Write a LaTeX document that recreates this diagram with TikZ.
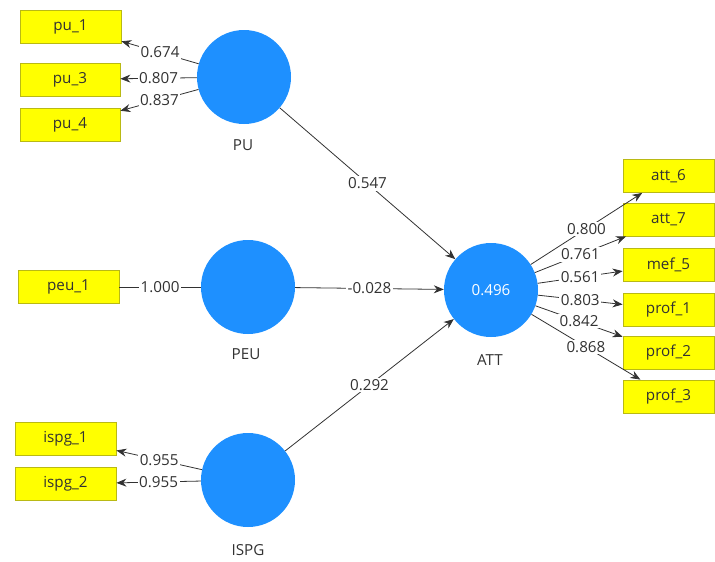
\documentclass[tikz,border=0pt]{standalone}
\usepackage{fontspec}
\setmainfont{Open Sans}
\usetikzlibrary{arrows.meta}
\definecolor{plsblue}{RGB}{30,144,255}
\definecolor{boxyellow}{RGB}{255,255,0}
\definecolor{boxborder}{RGB}{185,185,20}
\definecolor{linec}{RGB}{50,50,50}
\definecolor{txt}{RGB}{50,50,50}
\tikzset{
  ind/.style={draw=boxborder, fill=boxyellow, minimum height=33pt, inner sep=0pt, text=txt, line width=0.8pt},
  lv/.style={circle, fill=plsblue, minimum size=94pt, inner sep=0pt, text=white},
  lvname/.style={text=txt},
  lbl/.style={fill=white, inner sep=1.5pt, text=txt},
  conn/.style={draw=linec, line width=0.8pt},
  arr/.style={conn, -{Stealth[length=10pt,width=8pt]}}
}
\begin{document}
\begin{tikzpicture}[x=1pt,y=-1pt,font=\fontsize{15.2}{18}\selectfont]
\useasboundingbox (0,0) rectangle (715,562);
% latent variables
\node[lv] (PU) at (244,77) {};
\node[lv] (PEU) at (248,287) {};
\node[lv] (ATT) at (491,290) {0.496};
\node[lv] (ISPG) at (248,480) {};
\node[lvname] (PUl) at (243,145) {PU};
\node[lvname] (PEUl) at (246,354) {PEU};
\node[lvname] (ATTl) at (490,360) {ATT};
\node[lvname] (ISPGl) at (248,550) {ISPG};
% left indicators
\node[ind, minimum width=101pt] (pu1) at (70.5,26.5) {pu\_1};
\node[ind, minimum width=100pt] (pu3) at (70,79.5) {pu\_3};
\node[ind, minimum width=100pt] (pu4) at (70,124.5) {pu\_4};
\node[ind, minimum width=101pt] (peu1) at (68.5,287) {peu\_1};
\node[ind, minimum width=101pt] (ispg1) at (65.5,439) {ispg\_1};
\node[ind, minimum width=101pt] (ispg2) at (65.5,484) {ispg\_2};
% right indicators
\node[ind, minimum width=91pt] (att6) at (668.5,176) {att\_6};
\node[ind, minimum width=91pt] (att7) at (668.5,219.5) {att\_7};
\node[ind, minimum width=91pt] (mef5) at (668.5,264.5) {mef\_5};
\node[ind, minimum width=91pt] (prof1) at (668.5,309.5) {prof\_1};
\node[ind, minimum width=91pt] (prof2) at (668.5,353) {prof\_2};
\node[ind, minimum width=91pt] (prof3) at (668.5,396.5) {prof\_3};
% outer loadings
\draw[arr] (PU) -- node[lbl]{0.674} (pu1);
\draw[arr] (PU) -- node[lbl]{0.807} (pu3);
\draw[arr] (PU) -- node[lbl]{0.837} (pu4);
\draw[conn] (peu1) -- node[lbl]{1.000} (PEU);
\draw[arr] (ISPG) -- node[lbl]{0.955} (ispg1);
\draw[arr] (ISPG) -- node[lbl]{0.955} (ispg2);
\draw[arr] (ATT) -- node[lbl]{0.800} (att6);
\draw[arr] (ATT) -- node[lbl]{0.761} (att7);
\draw[arr] (ATT) -- node[lbl]{0.561} (mef5);
\draw[arr] (ATT) -- node[lbl]{0.803} (prof1);
\draw[arr] (ATT) -- node[lbl]{0.842} (prof2);
\draw[arr] (ATT) -- node[lbl]{0.868} (prof3);
% path coefficients
\draw[arr] (PU) -- node[lbl]{0.547} (ATT);
\draw[arr] (PEU) -- node[lbl]{-0.028} (ATT);
\draw[arr] (ISPG) -- node[lbl]{0.292} (ATT);
\end{tikzpicture}
\end{document}
